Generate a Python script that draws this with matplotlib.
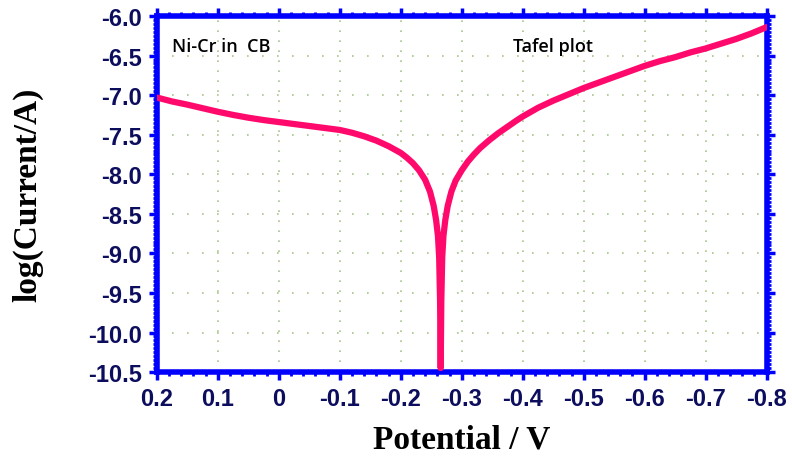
import numpy as np
import matplotlib.pyplot as plt
from matplotlib.ticker import MultipleLocator

# Tafel curve (potential in V, log current in A)
potential = [0.2, 0.175, 0.15, 0.125, 0.1, 0.075, 0.05, 0.025, 0.0, -0.025,
             -0.05, -0.075, -0.1, -0.12, -0.14, -0.16, -0.18, -0.2, -0.21, -0.22,
             -0.23, -0.24, -0.248, -0.254, -0.258, -0.261, -0.263, -0.2645, -0.2655,
             -0.2665, -0.268, -0.27, -0.273, -0.277, -0.283, -0.29, -0.3, -0.31,
             -0.32, -0.33, -0.345, -0.36, -0.375, -0.39, -0.4, -0.425, -0.45,
             -0.475, -0.5, -0.525, -0.55, -0.575, -0.6, -0.625, -0.65, -0.675,
             -0.7, -0.725, -0.75, -0.775, -0.8]
log_current = [-7.03, -7.08, -7.12, -7.165, -7.21, -7.25, -7.285, -7.315, -7.34, -7.365,
               -7.39, -7.415, -7.44, -7.475, -7.52, -7.575, -7.645, -7.73, -7.79, -7.86,
               -7.95, -8.07, -8.22, -8.4, -8.58, -8.78, -9.05, -9.6, -10.45,
               -9.6, -9.05, -8.78, -8.58, -8.4, -8.22, -8.08, -7.95, -7.84,
               -7.75, -7.67, -7.57, -7.48, -7.4, -7.32, -7.27, -7.16, -7.07,
               -6.99, -6.91, -6.84, -6.77, -6.7, -6.63, -6.57, -6.52, -6.46,
               -6.41, -6.35, -6.29, -6.22, -6.14]

xticks = [0.2, 0.1, 0, -0.1, -0.2, -0.3, -0.4, -0.5, -0.6, -0.7, -0.8]
xticklabels = ['0.2', '0.1', '0', '-0.1', '-0.2', '-0.3', '-0.4', '-0.5', '-0.6', '-0.7', '-0.8']
yticks = np.arange(-10.5, -5.99, 0.5)

blue = '#0000ff'
navy = '#0d0d5e'

fig = plt.figure(figsize=(7.92, 4.6), dpi=100)
ax = fig.add_axes([0.198, 0.189, 0.77, 0.774])

ax.plot(potential, log_current, color='#ff0a6c', lw=4.5, solid_capstyle='round',
        solid_joinstyle='round', zorder=3)

ax.set_xlim(0.2, -0.8)
ax.set_ylim(-10.5, -6.0)
ax.set_xticks(xticks)
ax.set_xticklabels(xticklabels)
ax.set_yticks(yticks)
ax.set_yticklabels(['%.1f' % v for v in yticks])
ax.xaxis.set_minor_locator(MultipleLocator(0.02))
ax.yaxis.set_minor_locator(MultipleLocator(0.05))

# sparse dotted grid like the original software
ax.xaxis.grid(True, which='major', color='#a8c48a', linestyle=(0, (1, 5)), lw=1.2)
ax.yaxis.grid(True, which='major', color='#a8c48a', linestyle=(0, (1, 8)), lw=1.2)

for s in ax.spines.values():
    s.set_color(blue)
    s.set_linewidth(4)

ax.tick_params(which='both', direction='out', color=blue, top=True, right=True,
               labeltop=False, labelright=False)
ax.tick_params(which='major', length=6, width=2.5, pad=5)
ax.tick_params(which='minor', length=3, width=2)

for lab in ax.get_xticklabels() + ax.get_yticklabels():
    lab.set_fontfamily('Liberation Sans')
    lab.set_fontweight('bold')
    lab.set_fontsize(17)
    lab.set_color(navy)

ax.set_xlabel('Potential / V', fontfamily='Liberation Serif', fontweight='bold',
              fontsize=24)
ax.set_ylabel('log(Current/A)', fontfamily='Liberation Serif', fontweight='bold',
              fontsize=24)
ax.xaxis.set_label_coords(0.5, -0.145)
ax.yaxis.set_label_coords(-0.186, 0.5)

ax.text(0.175, -6.38, 'Ni-Cr in  CB', fontfamily='Open Sans', fontweight='semibold',
        fontsize=13, va='center', ha='left')
ax.text(-0.384, -6.38, 'Tafel plot', fontfamily='Open Sans', fontweight='semibold',
        fontsize=13, va='center', ha='left')

fig.savefig('out.png', dpi=100)
